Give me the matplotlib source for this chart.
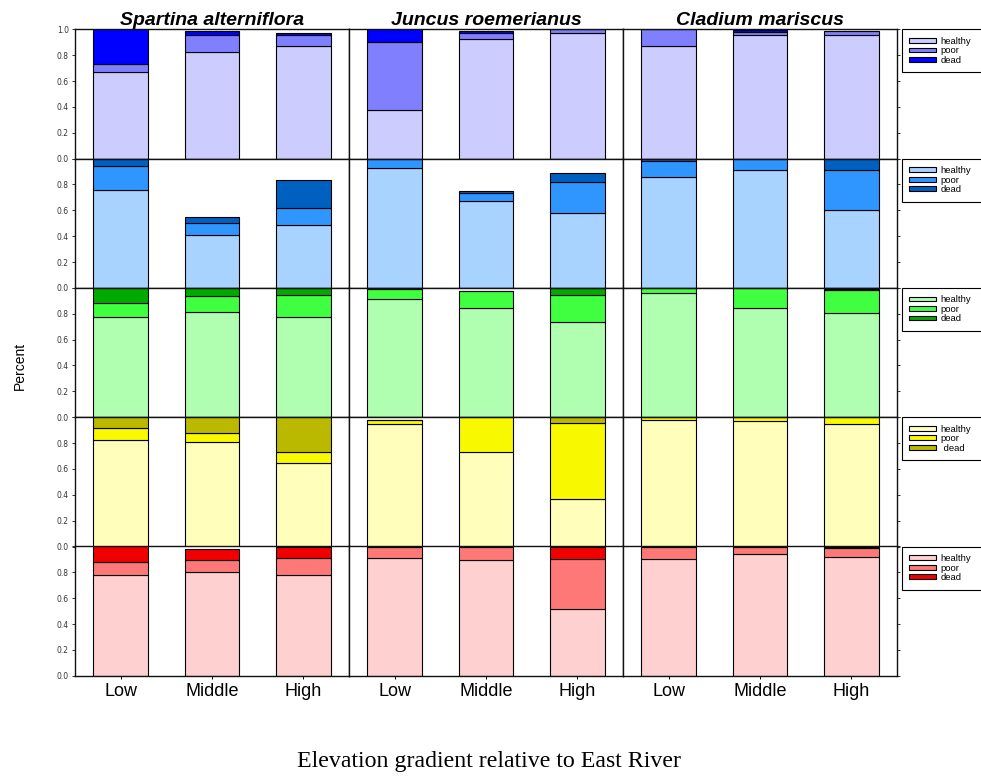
import matplotlib
matplotlib.use('Agg')
import matplotlib.pyplot as plt
import numpy as np

species = ['Spartina alterniflora', 'Juncus roemerianus', 'Cladium mariscus']
zones = ['Low', 'Middle', 'High']
status = ['healthy', 'poor', 'dead']

# fractions per species (outer) and zone (inner)
purple_healthy = [[0.667, 0.827, 0.868], [0.377, 0.928, 0.969], [0.873, 0.953, 0.953]]
purple_poor = [[0.062, 0.126, 0.085], [0.527, 0.041, 0.031], [0.127, 0.029, 0.037]]
purple_dead = [[0.271, 0.031, 0.016], [0.096, 0.018, 0.0], [0.0, 0.013, 0.0]]

sky_healthy = [[0.757, 0.406, 0.488], [0.925, 0.674, 0.576], [0.858, 0.915, 0.605]]
sky_poor = [[0.184, 0.098, 0.130], [0.075, 0.062, 0.241], [0.126, 0.085, 0.310]]
sky_dead = [[0.059, 0.044, 0.219], [0.0, 0.011, 0.074], [0.013, 0.0, 0.085]]

green_healthy = [[0.773, 0.815, 0.773], [0.914, 0.844, 0.734], [0.964, 0.844, 0.805]]
green_poor = [[0.110, 0.122, 0.172], [0.078, 0.130, 0.211], [0.036, 0.156, 0.179]]
green_dead = [[0.117, 0.063, 0.055], [0.0, 0.0, 0.055], [0.0, 0.0, 0.010]]

yellow_healthy = [[0.823, 0.807, 0.648], [0.946, 0.728, 0.368], [0.977, 0.967, 0.946]]
yellow_poor = [[0.092, 0.070, 0.080], [0.031, 0.272, 0.586], [0.023, 0.033, 0.054]]
yellow_dead = [[0.085, 0.123, 0.272], [0.0, 0.0, 0.046], [0.0, 0.0, 0.0]]

red_healthy = [[0.781, 0.802, 0.781], [0.913, 0.892, 0.519], [0.902, 0.943, 0.920]]
red_poor = [[0.098, 0.090, 0.132], [0.087, 0.108, 0.383], [0.098, 0.057, 0.067]]
red_dead = [[0.121, 0.090, 0.087], [0.0, 0.0, 0.098], [0.0, 0.0, 0.013]]

rows = [
    (purple_healthy, purple_poor, purple_dead, ['#CCCCFF', '#8080FF', '#0000FF']),
    (sky_healthy, sky_poor, sky_dead, ['#A8D2FF', '#3096FF', '#0060C0']),
    (green_healthy, green_poor, green_dead, ['#B0FFB0', '#40FF40', '#00AA00']),
    (yellow_healthy, yellow_poor, yellow_dead, ['#FFFFBB', '#F8F800', '#BBB800']),
    (red_healthy, red_poor, red_dead, ['#FFD0D0', '#FF7878', '#F00000']),
]

W, H = 981, 784
fig = plt.figure(figsize=(W / 100, H / 100), dpi=100)

x0, y0 = 75, 29.3
pw, ph = 274, 129.3
x = np.arange(len(zones))

for r, (hl, po, de, cols) in enumerate(rows):
    for c, sp in enumerate(species):
        ax = fig.add_axes([(x0 + c * pw) / W, 1 - (y0 + (r + 1) * ph) / H, pw / W, ph / H])
        hv, pv, dv = np.array(hl[c]), np.array(po[c]), np.array(de[c])
        bars = []
        bottom = np.zeros(3)
        for vals, col, lab in zip([hv, pv, dv], cols, status):
            b = ax.bar(x, vals, 0.6, bottom=bottom, color=col, edgecolor='black',
                       linewidth=0.8, label=lab)
            bars.append(b)
            bottom = bottom + vals
        ax.set_xlim(-0.5, 2.5)
        ax.set_ylim(0, 1)
        ax.set_yticks(np.arange(0, 1.01, 0.2))
        labs = ['%.1f' % v for v in np.arange(0, 1.01, 0.2)]
        if r > 0:
            labs[-1] = ''
        ax.set_yticklabels(labs)
        ax.tick_params(axis='y', direction='out', length=2.5, width=0.7, labelsize=5.5,
                       colors='#333333', left=(c == 0), right=True,
                       labelleft=(c == 0), labelright=False, pad=2)
        ax.set_xticks(x)
        ax.set_xticklabels(zones, fontsize=13, family='Liberation Sans')
        ax.tick_params(axis='x', direction='out', length=2.5, width=0.7, pad=3,
                       bottom=(r == 4), labelbottom=(r == 4))
        for s in ax.spines.values():
            s.set_linewidth(1.0)
            s.set_color('#111111')
        if r == 0:
            ax.set_title(sp, fontsize=14, fontweight='bold', style='italic',
                         family='Liberation Sans', pad=3)
        if c == 2:
            labels = list(status)
            if r == 3:
                labels[2] = ' dead'
            leg = ax.legend(bars, labels, loc='upper left', bbox_to_anchor=(1.018, 0, 0.4, 1.0),
                            mode='expand', borderaxespad=0, frameon=True,
                            fancybox=False, framealpha=1, borderpad=0.8, labelspacing=0.05,
                            handlelength=2.8, handleheight=0.4, handletextpad=0.5,
                            prop={'family': 'Liberation Sans', 'size': 6.8})
            leg.get_frame().set_edgecolor('black')
            leg.get_frame().set_linewidth(0.8)

fig.text(20 / W, 1 - 366 / H, 'Percent', rotation=90, ha='center', va='center',
         family=['Liberation Sans Narrow', 'Liberation Sans'], fontsize=10)
fig.text(489 / W, 1 - 762 / H, 'Elevation gradient relative to East River', ha='center',
         va='center', family='Liberation Serif', fontsize=17.2)

fig.savefig('out.png', dpi=100)
plt.close(fig)
